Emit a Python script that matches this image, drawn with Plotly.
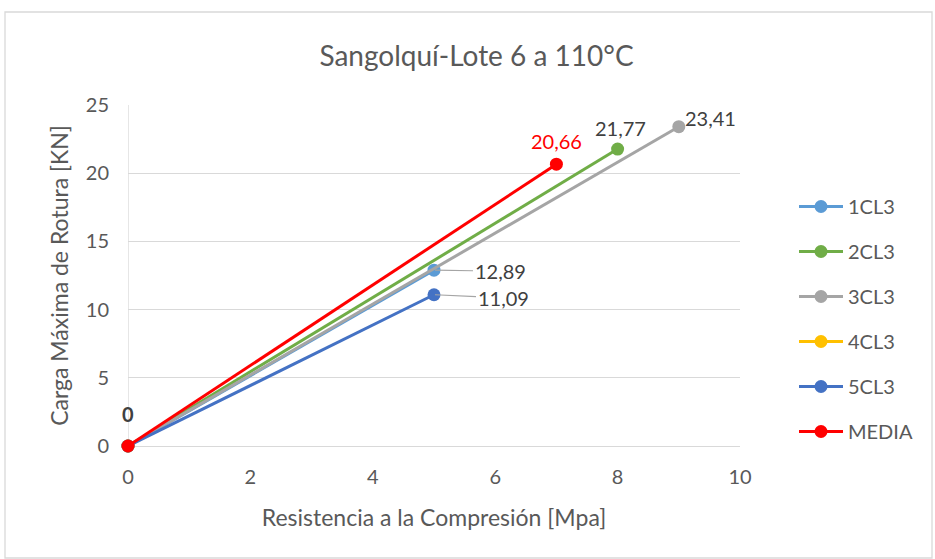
import plotly.graph_objects as go

series_names = ["1CL3", "2CL3", "3CL3", "4CL3", "5CL3", "MEDIA"]
x_1CL3 = [0, 5]
y_1CL3 = [0, 12.89]
x_2CL3 = [0, 8]
y_2CL3 = [0, 21.77]
x_3CL3 = [0, 9]
y_3CL3 = [0, 23.41]
x_4CL3 = [0]
y_4CL3 = [0]
x_5CL3 = [0, 5]
y_5CL3 = [0, 11.09]
x_MEDIA = [0, 7]
y_MEDIA = [0, 20.66]
colors = ["#5B9BD5", "#70AD47", "#A5A5A5", "#FFC000", "#4472C4", "#FF0000"]
label_texts = ["12,89", "21,77", "23,41", None, "11,09", "20,66"]
x_ticks = [0, 2, 4, 6, 8, 10]
y_ticks = [0, 5, 10, 15, 20, 25]

xs = [x_1CL3, x_2CL3, x_3CL3, x_4CL3, x_5CL3, x_MEDIA]
ys = [y_1CL3, y_2CL3, y_3CL3, y_4CL3, y_5CL3, y_MEDIA]

FONT = "Lato, 'Open Sans', sans-serif"
LBL = 20
fig = go.Figure()
for i, name in enumerate(series_names):
    fig.add_trace(go.Scatter(
        x=xs[i], y=ys[i], name=name, mode="lines+markers",
        line=dict(color=colors[i], width=3),
        marker=dict(color=colors[i], size=13),
        legendgroup=name, cliponaxis=False,
    ))

annotations = []
annotations.append(dict(x=0, y=0, xref="x", yref="y", text="<b>0</b>", showarrow=False,
                        yshift=32, font=dict(family=FONT, size=LBL, color="#404040")))
placement = {
    "1CL3": dict(ax=66, ay=1, arrow=True),
    "5CL3": dict(ax=69, ay=3, arrow=True),
    "MEDIA": dict(ax=0, ay=-23, arrow=False),
    "2CL3": dict(ax=3, ay=-21, arrow=False),
    "3CL3": dict(ax=32, ay=-9, arrow=False),
}
for i, name in enumerate(series_names):
    t = label_texts[i]
    if t is None:
        continue
    p = placement[name]
    col = "#FF0000" if name == "MEDIA" else "#404040"
    if p["arrow"]:
        annotations.append(dict(x=xs[i][-1], y=ys[i][-1], xref="x", yref="y", text=t,
                                showarrow=True, arrowhead=0, arrowwidth=1.2, arrowcolor="#A5A5A5",
                                ax=p["ax"], ay=p["ay"], standoff=1,
                                font=dict(family=FONT, size=LBL, color=col)))
    else:
        annotations.append(dict(x=xs[i][-1], y=ys[i][-1], xref="x", yref="y", text=t,
                                showarrow=False, xshift=p["ax"], yshift=-p["ay"],
                                font=dict(family=FONT, size=LBL, color=col)))

fig.update_layout(
    width=935, height=559,
    margin=dict(l=128, r=195, t=105, b=113),
    paper_bgcolor="white", plot_bgcolor="white",
    title=dict(text="Sangolquí-Lote 6 a 110°C", x=476.5 / 935, xanchor="center",
               y=1 - 56 / 559, yanchor="middle",
               font=dict(family=FONT, size=28, color="#595959")),
    font=dict(family=FONT, color="#595959"),
    xaxis=dict(range=[0, 10], tickvals=x_ticks, showgrid=False, zeroline=False,
               showline=False, ticks="", ticklabelstandoff=17,
               tickfont=dict(size=20, color="#595959"),
               title=dict(text="Resistencia a la Compresión [Mpa]", standoff=22,
                          font=dict(size=23, color="#595959"))),
    yaxis=dict(range=[0, 25], tickvals=y_ticks, showgrid=True, gridcolor="#D9D9D9", gridwidth=1.3,
               zeroline=True, zerolinecolor="#D9D9D9", zerolinewidth=1.3,
               showline=False, ticks="", ticklabelstandoff=18,
               tickfont=dict(size=20, color="#595959"),
               title=dict(text="Carga Máxima de Rotura [KN]", standoff=10,
                          font=dict(size=23, color="#595959"))),
    legend=dict(x=(794 - 128) / 612, xanchor="left", y=(446 - 187) / 341, yanchor="top",
                font=dict(family=FONT, size=20, color="#595959"),
                tracegroupgap=16, itemwidth=44, bgcolor="rgba(0,0,0,0)"),
    annotations=annotations,
    shapes=[
        dict(type="line", xref="x", yref="y", x0=0, x1=0, y0=0, y1=25,
             line=dict(color="#D9D9D9", width=1.3), layer="below"),
        dict(type="rect", xref="paper", yref="paper",
             x0=-123 / 612, x1=(932 - 128) / 612, y0=-112 / 341, y1=(446 - 12) / 341,
             line=dict(color="#D9D9D9", width=1.3)),
    ],
)

fig.write_html("out.html", config={"displayModeBar": False},
               post_script="document.body.style.margin='0';document.body.style.padding='0';")
